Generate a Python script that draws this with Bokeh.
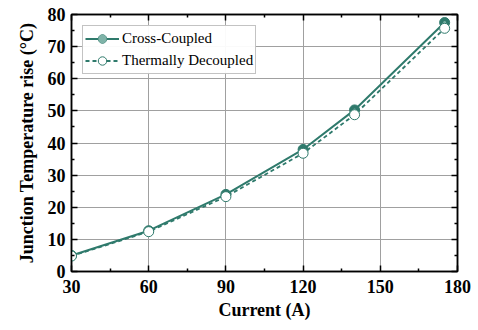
from bokeh.plotting import figure
from bokeh.models import LinearAxis, Range1d, FixedTicker, Legend, LegendItem
from bokeh.embed import file_html
from bokeh.resources import INLINE

current = [30, 60, 90, 120, 140, 175]
cross_coupled = [5.0, 12.7, 24.0, 38.0, 50.3, 77.5]
thermally_decoupled = [4.8, 12.4, 23.3, 36.8, 48.8, 75.7]
x_ticks = [30, 60, 90, 120, 150, 180]
y_ticks = [0, 10, 20, 30, 40, 50, 60, 70, 80]

TEAL = "#2f7a6c"
FONT = "'Liberation Serif', 'Times New Roman', serif"

p = figure(width=478, height=330, output_backend="svg", toolbar_location=None,
           x_range=Range1d(30, 180), y_range=Range1d(0, 80),
           min_border_left=71, min_border_right=21, min_border_top=14, min_border_bottom=59,
           x_axis_label="Current (A)", y_axis_label="Junction Temperature rise (°C)")

p.outline_line_color = "black"
p.outline_line_width = 1.5
p.background_fill_color = "white"
p.border_fill_color = "white"

p.xgrid.grid_line_color = "#a0a0a0"
p.ygrid.grid_line_color = "#a0a0a0"
p.xgrid.grid_line_width = 1
p.ygrid.grid_line_width = 1
p.xgrid.ticker = FixedTicker(ticks=x_ticks)
p.ygrid.ticker = FixedTicker(ticks=y_ticks)

x_minor = [45, 75, 105, 135, 165]
y_minor = [5, 15, 25, 35, 45, 55, 65, 75]

def style(ax, ticks, minor, labels=True):
    ax.ticker = FixedTicker(ticks=ticks, minor_ticks=minor)
    ax.major_tick_in = 6
    ax.major_tick_out = 0
    ax.minor_tick_in = 3
    ax.minor_tick_out = 0
    ax.major_tick_line_color = "black"
    ax.minor_tick_line_color = "black"
    ax.major_tick_line_width = 1.5
    ax.minor_tick_line_width = 1.5
    ax.axis_line_color = "black"
    ax.axis_line_width = 1.5
    ax.major_label_text_font = FONT
    ax.major_label_text_font_style = "bold"
    ax.major_label_text_font_size = "18px"
    ax.major_label_text_color = "black" if labels else None
    ax.axis_label_text_font = FONT
    ax.axis_label_text_font_style = "bold"
    ax.axis_label_text_font_size = "18px"
    ax.axis_label_text_color = "black"

style(p.xaxis[0], x_ticks, x_minor)
style(p.yaxis[0], y_ticks, y_minor)
p.xaxis[0].major_label_standoff = 8
p.xaxis[0].axis_label_standoff = 4
p.yaxis[0].major_label_standoff = 6
p.yaxis[0].axis_label_standoff = 8

top = LinearAxis()
style(top, x_ticks, x_minor, labels=False)
top.major_label_text_font_size = "0px"
p.add_layout(top, "above")
right = LinearAxis()
style(right, y_ticks, y_minor, labels=False)
right.major_label_text_font_size = "0px"
p.add_layout(right, "right")

l1 = p.line(current, cross_coupled, line_color=TEAL, line_width=2)
m1 = p.scatter(current, cross_coupled, size=10, fill_color=TEAL, line_color=TEAL, line_width=1)
h1 = p.scatter(current, cross_coupled, size=3, fill_color="#7fb3a8", line_color=None)
l2 = p.line(current, thermally_decoupled, line_color=TEAL, line_width=1.8, line_dash="4 3")
m2 = p.scatter(current, thermally_decoupled, size=10, fill_color="white", line_color=TEAL, line_width=1)

legend = Legend(items=[LegendItem(label="Cross-Coupled", renderers=[l1, m1, h1]),
                       LegendItem(label="Thermally Decoupled", renderers=[l2, m2])],
                location="top_left")
legend.label_text_font = FONT
legend.label_text_font_size = "15px"
legend.label_text_color = "black"
legend.border_line_color = "#888888"
legend.border_line_width = 1
legend.glyph_width = 34
legend.label_standoff = 3
legend.spacing = 1
legend.padding = 2
legend.margin = 11
legend.label_height = 21
legend.glyph_height = 21
p.add_layout(legend)

open("out.html", "w").write(file_html(p, INLINE))
